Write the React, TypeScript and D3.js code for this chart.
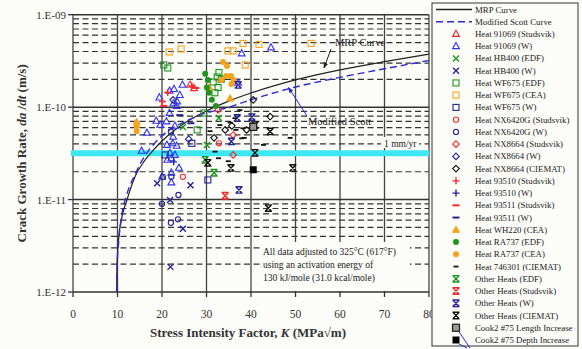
import React from "react";
import * as d3 from "d3";

const W = 582;
const H = 349;

const kTicks = [0, 10, 20, 30, 40, 50, 60, 70, 80];
const rateTicks = [1e-12, 1e-11, 1e-10, 1e-9];
const rateTickLabels = ["1.E-12", "1.E-11", "1.E-10", "1.E-09"];
const minorMults = [2, 3, 4, 5, 6, 7, 8, 9];

// curves: [K, da/dt]
const mrpCurve: [number, number][] = [
  [9.8, 1e-12], [9.9, 2e-12], [10.2, 3.5e-12], [11, 6.5e-12], [12, 9.5e-12], [14, 1.8e-11],
  [16, 2.6e-11], [18, 3.4e-11], [20, 4.3e-11], [25, 6.7e-11], [30, 9.1e-11], [35, 1.16e-10],
  [40, 1.42e-10], [50, 1.97e-10], [60, 2.53e-10], [70, 3.1e-10], [80, 3.75e-10],
];
const scottCurve: [number, number][] = [
  [9.8, 1e-12], [9.95, 2e-12], [10.3, 3.6e-12], [11, 7e-12], [12, 1.1e-11], [14, 1.9e-11],
  [16, 2.9e-11], [18, 3.9e-11], [20, 4.9e-11], [22, 5.8e-11], [25, 6.9e-11], [28.5, 8.2e-11],
  [35, 1.0e-10], [40, 1.2e-10], [50, 1.65e-10], [60, 2.1e-10], [70, 2.6e-10], [80, 3.2e-10],
];

// data points: [K, da/dt]
const heat91069S: [number, number][] = [[26.3, 1.74e-10], [27.2, 1.6e-10]];
const heat91069W: [number, number][] = [
  [15.4, 3.36e-11], [16.6, 5.26e-11], [18.7, 7.1e-11], [19.4, 1.27e-10], [19.6, 6.43e-11],
  [20.0, 1.76e-11], [21.0, 7.0e-11], [21.1, 3.9e-11], [21.7, 1.5e-10], [21.7, 8.65e-11],
  [21.8, 3.2e-11], [22.1, 1.95e-11], [22.1, 2.79e-11], [22.4, 4.06e-11], [22.6, 1.1e-10],
  [22.5, 4.77e-11], [22.7, 1.57e-10], [22.9, 6.27e-11], [22.9, 3.04e-11], [23.3, 1.03e-10],
  [23.3, 3.81e-11], [23.4, 1.15e-10], [24.0, 1.35e-10], [24.6, 1.74e-10], [23.8, 2.2e-11],
  [22.1, 1.53e-11], [21.2, 2.69e-11], [37.9, 3.81e-10], [44.5, 4.42e-10], [37.1, 1.83e-10],
];
const hb400EDF: [number, number][] = [[24.7, 6.11e-11], [30.1, 3.9e-11], [32.8, 7.64e-11]];
const hb400W: [number, number][] = [
  [18.9, 1.5e-11], [26.4, 1.43e-11], [21.8, 9.9e-12], [24.7, 4.82e-12], [21.9, 1.87e-12],
];
const wf675EDF: [number, number][] = [
  [20.4, 2.86e-10], [21.3, 2.65e-10], [32.4, 2.12e-10], [32.8, 2.37e-10], [33.3, 2.0e-10],
  [31.5, 1.87e-10], [32.6, 1.63e-10], [31.9, 1.43e-10], [29.4, 8.65e-11], [27.9, 5.67e-11],
];
const wf675CEA: [number, number][] = [
  [21.6, 3.95e-10], [24.3, 4.26e-10], [34.8, 4.06e-10], [36.0, 4.06e-10], [38.2, 4.89e-10],
  [41.8, 4.77e-10], [53.5, 4.89e-10], [38.7, 2.86e-10],
];
const wf675W: [number, number][] = [[26.7, 4.06e-11], [20.7, 3.04e-11], [30.3, 1.63e-11]];
const nx6420S: [number, number][] = [[24.7, 1.76e-11], [32.8, 4.06e-11]];
const nx6420W: [number, number][] = [
  [20.2, 1.76e-11], [22.1, 1.76e-11], [20.0, 9.0e-12], [23.7, 1.12e-11], [22.0, 5.6e-12],
  [23.6, 6.11e-12], [22.0, 5.46e-11],
];
const nx8664S: [number, number][] = [[36.0, 3.04e-11], [36.0, 5.0e-11], [32.6, 9.33e-11]];
const nx8664W: [number, number][] = [[22.5, 1.2e-10], [26.0, 4.5e-11]];
const nx8664C: [number, number][] = [
  [40.5, 1.2e-10], [44.3, 7.9e-11], [34.2, 5.67e-11], [35.7, 6.27e-11], [31.7, 4.65e-11],
  [39.0, 5.67e-11],
];
const heat93510S: [number, number][] = [[21.3, 1.44e-10], [20.1, 1.15e-10], [26.7, 1.69e-10]];
const heat93510W: [number, number][] = [[22.6, 2.56e-11]];
const heat93511S: [number, number][] = [[20.4, 1.03e-10], [27.6, 1.61e-10]];
const heat93511W: [number, number][] = [[24.0, 8.2e-11], [26.5, 6.7e-11]];
const wh220CEA: [number, number][] = [[14.3, 6.9e-11], [30.6, 1.63e-10], [35.3, 1.24e-10]];
const ra737EDF: [number, number][] = [
  [29.7, 2.29e-10], [30.3, 1.97e-10], [30.1, 1.63e-10], [30.6, 1.43e-10], [31.2, 1.2e-10],
  [32.1, 1.03e-10],
];
const ra737CEA: [number, number][] = [
  [33.7, 3.08e-10], [34.6, 2.79e-10], [33.3, 1.97e-10], [34.4, 2.17e-10], [35.5, 2.17e-10],
  [36.1, 1.97e-10], [35.6, 1.78e-10], [14.3, 5.5e-11], [14.3, 6.2e-11],
];
const heat746301: [number, number][] = [
  [37.5, 9.3e-11], [36.4, 7.6e-11], [35.3, 6.8e-11], [38.2, 5.9e-11], [37.9, 4.6e-11],
  [33.0, 6.4e-11], [30.8, 5.5e-11], [31.9, 3.3e-11], [32.7, 2.8e-11], [34.9, 2.6e-11],
  [42.8, 3.9e-11], [48.8, 4.65e-11], [38.5, 4.65e-11], [36.6, 5.67e-11],
];
const otherEDF: [number, number][] = [[31.7, 1.95e-11], [29.7, 2.69e-11]];
const otherStudsvik: [number, number][] = [[34.2, 1.1e-11]];
const otherW: [number, number][] = [
  [37.1, 1.74e-10], [36.9, 7.64e-11], [40.2, 7.8e-11], [35.6, 4.26e-11], [37.3, 1.27e-11],
];
const otherCIEMAT: [number, number][] = [
  [40.9, 6.4e-11], [44.3, 5.46e-11], [40.9, 3.2e-11], [35.5, 2.2e-11], [49.4, 2.2e-11],
  [43.9, 8.1e-12], [30.3, 2.5e-11],
];
const cookLength: [number, number][] = [[40.5, 6.11e-11]];
const cookDepth: [number, number][] = [[40.5, 2.1e-11]];

const oneMmPerYr = 3.17e-11;

const RED = "#f42a2a";
const BLUE = "#3030ff";
const NAVY = "#23238f";
const GREEN = "#1e951e";
const ORANGE = "#f5a21c";
const BLACK = "#111";

type Shape =
  | "tri" | "triF" | "x" | "sq" | "circ" | "circF" | "dia" | "plus" | "minus"
  | "dashS" | "hx" | "sqGray" | "sqBlack";

const series: { label: string; shape: Shape; color: string; data: [number, number][] }[] = [
  { label: "Heat 91069 (Studsvik)", shape: "tri", color: RED, data: heat91069S },
  { label: "Heat 91069 (W)", shape: "tri", color: BLUE, data: heat91069W },
  { label: "Heat HB400 (EDF)", shape: "x", color: GREEN, data: hb400EDF },
  { label: "Heat HB400 (W)", shape: "x", color: NAVY, data: hb400W },
  { label: "Heat WF675 (EDF)", shape: "sq", color: GREEN, data: wf675EDF },
  { label: "Heat WF675 (CEA)", shape: "sq", color: ORANGE, data: wf675CEA },
  { label: "Heat WF675 (W)", shape: "sq", color: NAVY, data: wf675W },
  { label: "Heat NX6420G (Studsvik)", shape: "circ", color: RED, data: nx6420S },
  { label: "Heat NX6420G (W)", shape: "circ", color: NAVY, data: nx6420W },
  { label: "Heat NX8664 (Studsvik)", shape: "dia", color: RED, data: nx8664S },
  { label: "Heat NX8664 (W)", shape: "dia", color: NAVY, data: nx8664W },
  { label: "Heat NX8664 (CIEMAT)", shape: "dia", color: BLACK, data: nx8664C },
  { label: "Heat 93510 (Studsvik)", shape: "plus", color: RED, data: heat93510S },
  { label: "Heat 93510 (W)", shape: "plus", color: NAVY, data: heat93510W },
  { label: "Heat 93511 (Studsvik)", shape: "minus", color: RED, data: heat93511S },
  { label: "Heat 93511 (W)", shape: "minus", color: NAVY, data: heat93511W },
  { label: "Heat WH220 (CEA)", shape: "triF", color: ORANGE, data: wh220CEA },
  { label: "Heat RA737 (EDF)", shape: "circF", color: GREEN, data: ra737EDF },
  { label: "Heat RA737 (CEA)", shape: "circF", color: ORANGE, data: ra737CEA },
  { label: "Heat 746301 (CIEMAT)", shape: "dashS", color: BLACK, data: heat746301 },
  { label: "Other Heats (EDF)", shape: "hx", color: GREEN, data: otherEDF },
  { label: "Other Heats (Studsvik)", shape: "hx", color: RED, data: otherStudsvik },
  { label: "Other Heats (W)", shape: "hx", color: NAVY, data: otherW },
  { label: "Other Heats (CIEMAT)", shape: "hx", color: BLACK, data: otherCIEMAT },
  { label: "Cook2 #75 Length Increase", shape: "sqGray", color: BLACK, data: cookLength },
  { label: "Cook2 #75 Depth Increase", shape: "sqBlack", color: BLACK, data: cookDepth },
];

const Marker = ({ shape, color, x, y }: { shape: Shape; color: string; x: number; y: number }) => {
  const sw = 1.1;
  switch (shape) {
    case "tri":
      return <path d={`M${x},${y - 3.8}L${x + 3.4},${y + 2.4}L${x - 3.4},${y + 2.4}Z`} fill="none" stroke={color} strokeWidth={sw} />;
    case "triF":
      return <path d={`M${x},${y - 4}L${x + 3.6},${y + 2.6}L${x - 3.6},${y + 2.6}Z`} fill={color} stroke={color} strokeWidth={0.8} />;
    case "x":
      return <path d={`M${x - 3},${y - 3}L${x + 3},${y + 3}M${x + 3},${y - 3}L${x - 3},${y + 3}`} stroke={color} strokeWidth={1.4} />;
    case "sq":
      return <rect x={x - 3} y={y - 3} width={6} height={6} fill="none" stroke={color} strokeWidth={sw} />;
    case "circ":
      return <circle cx={x} cy={y} r={2.6} fill="none" stroke={color} strokeWidth={sw} />;
    case "circF":
      return <circle cx={x} cy={y} r={3} fill={color} />;
    case "dia":
      return <path d={`M${x},${y - 3.3}L${x + 3.3},${y}L${x},${y + 3.3}L${x - 3.3},${y}Z`} fill="none" stroke={color} strokeWidth={sw} />;
    case "plus":
      return <path d={`M${x - 3.5},${y}H${x + 3.5}M${x},${y - 3.5}V${y + 3.5}`} stroke={color} strokeWidth={1.4} />;
    case "minus":
      return <path d={`M${x - 3.5},${y}H${x + 3.5}`} stroke={color} strokeWidth={2} />;
    case "dashS":
      return <path d={`M${x - 2.5},${y}H${x + 2.5}`} stroke={color} strokeWidth={1.8} />;
    case "hx":
      return (
        <path
          d={`M${x - 3},${y - 3}L${x + 3},${y + 3}M${x + 3},${y - 3}L${x - 3},${y + 3}M${x - 3.5},${y - 3.2}H${x + 3.5}M${x - 3.5},${y + 3.2}H${x + 3.5}`}
          stroke={color}
          strokeWidth={1.4}
        />
      );
    case "sqGray":
      return <rect x={x - 3.5} y={y - 3.5} width={7} height={7} fill="#9a9a9a" stroke="#222" strokeWidth={1.3} />;
    case "sqBlack":
      return <rect x={x - 3.5} y={y - 3.5} width={7} height={7} fill="#000" />;
  }
  return null;
};

const App = () => {
  const x = d3.scaleLinear().domain([0, 80]).range([73, 429]);
  const y = d3.scaleLog().domain([1e-12, 1e-9]).range([292, 14.7]);

  const line = d3
    .line<[number, number]>()
    .x((d) => x(d[0]))
    .y((d) => y(d[1]))
    .curve(d3.curveMonotoneX);

  const minorRates: number[] = [];
  [1e-12, 1e-11, 1e-10].forEach((dec) => minorMults.forEach((m) => minorRates.push(dec * m)));

  const serif = "'Liberation Serif', 'Times New Roman', serif";
  const x0 = x(0);
  const x1 = x(80);
  const yTop = y(1e-9);
  const yBot = y(1e-12);

  const legendY = (i: number) => 9.5 + i * 12.24;

  return (
    <svg
      width={W}
      height={H}
      style={{ position: "absolute", left: 0, top: 0, display: "block", background: "#fcfcf8" }}
      fontFamily={serif}
    >
      {/* grid */}
      <g>
        {minorRates.map((r, i) => (
          <line key={"m" + i} x1={x0} x2={x1} y1={y(r)} y2={y(r)} stroke="#333" strokeWidth={1.2} strokeDasharray="6,3.5" />
        ))}
        {kTicks.map((k) => (
          <line key={"v" + k} x1={x(k)} x2={x(k)} y1={yTop} y2={yBot} stroke="#444" strokeWidth={1.3} />
        ))}
        {rateTicks.map((r) => (
          <line key={"h" + r} x1={x0} x2={x1} y1={y(r)} y2={y(r)} stroke="#333" strokeWidth={1.5} />
        ))}
      </g>

      {/* annotation box covering the grid */}
      <rect x={261} y={242} width={149} height={49} fill="#fcfcf8" />
      <text fontSize={9.5} fill="#222">
        <tspan x={263} y={255}>All data adjusted to 325°C (617°F)</tspan>
        <tspan x={263} y={267.5}>using an activation energy of</tspan>
        <tspan x={263} y={280.5}>130 kJ/mole (31.0 kcal/mole)</tspan>
      </text>

      {/* 1 mm/yr line */}
      <line x1={71} x2={x1} y1={y(oneMmPerYr)} y2={y(oneMmPerYr)} stroke="#3de8f2" strokeWidth={6} />
      <rect x={381} y={137} width={38} height={11} fill="#fcfcf8" />
      <text x={384} y={146.5} fontSize={9.5} fill="#222">1 mm/yr</text>

      {/* curves */}
      <path d={line(mrpCurve) || ""} fill="none" stroke="#222" strokeWidth={1.2} />
      <path d={line(scottCurve) || ""} fill="none" stroke="#2a2ad8" strokeWidth={1.4} strokeDasharray="7,4" />

      {/* points */}
      <g>
        {series.map((s) =>
          s.data.map((d, i) => <Marker key={s.label + i} shape={s.shape} color={s.color} x={x(d[0])} y={y(d[1])} />)
        )}
      </g>

      {/* curve labels */}
      <defs>
        <marker id="ahK" viewBox="0 0 10 10" refX={9} refY={5} markerWidth={6} markerHeight={6} orient="auto">
          <path d="M0,1L10,5L0,9Z" fill="#222" />
        </marker>
        <marker id="ahB" viewBox="0 0 10 10" refX={9} refY={5} markerWidth={6} markerHeight={6} orient="auto">
          <path d="M0,1L10,5L0,9Z" fill="#2a2ad8" />
        </marker>
      </defs>
      <text x={335} y={46} fontSize={10.5} fill="#222">MRP Curve</text>
      <line x1={331} y1={49} x2={324} y2={68} stroke="#222" strokeWidth={1} markerEnd="url(#ahK)" />
      <text x={308} y={125} fontSize={10.5} fill="#222">Modified Scott</text>
      <line x1={307} y1={116} x2={288.5} y2={87.5} stroke="#2a2ad8" strokeWidth={1} markerEnd="url(#ahB)" />

      {/* axes */}
      <g>
        {kTicks.map((k) => (
          <g key={"xt" + k}>
            <line x1={x(k)} x2={x(k)} y1={yBot} y2={yBot + 5} stroke="#333" strokeWidth={1.3} />
            <text x={x(k)} y={318} fontSize={11.5} textAnchor="middle" fill="#333">{k}</text>
          </g>
        ))}
        {rateTicks.map((r, i) => (
          <g key={"yt" + r}>
            <line x1={x0 - 5} x2={x0} y1={y(r)} y2={y(r)} stroke="#333" strokeWidth={1.3} />
            <text x={66} y={y(r) + 4} fontSize={11} textAnchor="end" fill="#333">{rateTickLabels[i]}</text>
          </g>
        ))}
      </g>
      <text x={248} y={337} fontSize={13} fontWeight="bold" textAnchor="middle" fill="#333">
        Stress Intensity Factor, <tspan fontStyle="italic">K</tspan> (MPa√m)
      </text>
      <text transform={`translate(26,${(yTop + yBot) / 2}) rotate(-90)`} fontSize={13} fontWeight="bold" textAnchor="middle" fill="#333">
        Crack Growth Rate, <tspan fontStyle="italic">da</tspan> /<tspan fontStyle="italic">dt</tspan> (m/s)
      </text>

      {/* legend */}
      <g>
        <rect x={432} y={3} width={146} height={343} fill="#fcfcf8" stroke="#333" strokeWidth={1} />
        <line x1={436} x2={472} y1={legendY(0)} y2={legendY(0)} stroke="#222" strokeWidth={1.3} />
        <text x={475} y={legendY(0) + 3} fontSize={8.8} fill="#222">MRP Curve</text>
        <line x1={436} x2={472} y1={legendY(1)} y2={legendY(1)} stroke="#2a2ad8" strokeWidth={1.4} strokeDasharray="7,4" />
        <text x={475} y={legendY(1) + 3} fontSize={8.8} fill="#222">Modified Scott Curve</text>
        {series.map((s, i) => (
          <g key={"lg" + s.label}>
            <Marker shape={s.shape} color={s.color} x={456} y={legendY(i + 2)} />
            <text x={475} y={legendY(i + 2) + 3} fontSize={8.8} fill="#222">{s.label}</text>
          </g>
        ))}
        <line x1={459} y1={legendY(26) + 4} x2={470} y2={348} stroke="#2a2ad8" strokeWidth={1} />
        <line x1={459} y1={legendY(27) + 4} x2={467} y2={348} stroke="#2a2ad8" strokeWidth={1} />
      </g>
    </svg>
  );
};

export default App;
